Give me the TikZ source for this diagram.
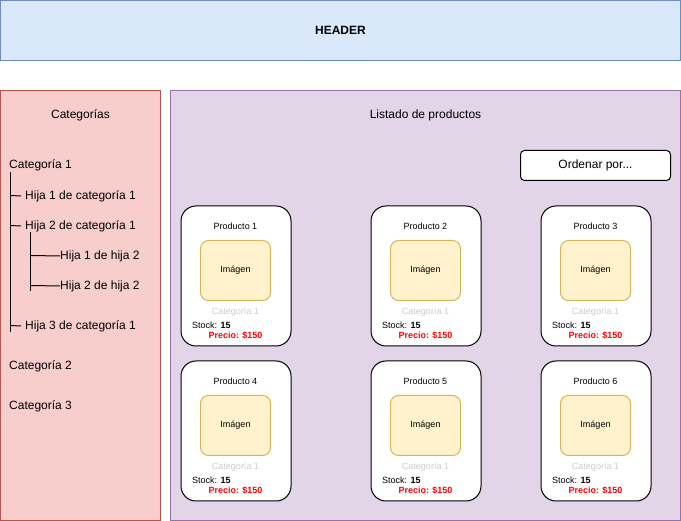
\documentclass[tikz,border=0pt]{standalone}
\usepackage{fontspec}
\setmainfont{Liberation Sans}
\definecolor{hdrfill}{HTML}{DAE8FC}
\definecolor{hdrline}{HTML}{6C8EBF}
\definecolor{catfill}{HTML}{F8CECC}
\definecolor{catline}{HTML}{B85450}
\definecolor{prodfill}{HTML}{E1D5E7}
\definecolor{prodline}{HTML}{9673A6}
\definecolor{imgfill}{HTML}{FFF2CC}
\definecolor{imgline}{HTML}{D6B656}
\definecolor{graytxt}{HTML}{CCCCCC}
\definecolor{redtxt}{HTML}{FF0000}
\tikzset{
  panel/.style={draw, line width=1pt, inner sep=0pt, outer sep=0pt, anchor=north west},
  txt/.style={inner sep=0pt, font=\fontsize{12}{14}\selectfont},
  ltxt/.style={txt, anchor=west},
  small/.style={inner sep=0pt, font=\fontsize{9}{11}\selectfont},
  card/.style={draw, line width=1pt, fill=white, rounded corners=15pt, minimum width=110pt, minimum height=140pt, anchor=north west, inner sep=0pt},
  imgbox/.style={draw=imgline, fill=imgfill, line width=1pt, rounded corners=8pt, minimum width=70pt, minimum height=60pt, inner sep=0pt, font=\fontsize{9}{11}\selectfont},
  tree/.style={line width=1pt}
}
\newcommand{\prodcard}[4]{%
  \node[card] (#1) at (#2,#3) {};
  \node[small] (#1t) at (#2+55,#3+20.5) {Producto #4};
  \node[imgbox] (#1i) at (#2+55,#3+65) {Imágen};
  \node[small, text=graytxt] (#1c) at (#2+55,#3+106.5) {Categoría 1};
  \node[small, anchor=west] (#1s) at (#2+11.5,#3+119.5) {Stock: \textbf{15}};
  \node[small, text=redtxt, font=\fontsize{9}{11}\selectfont\bfseries] (#1p) at (#2+55,#3+130) {Precio: \$150};
}
\begin{document}
\begin{tikzpicture}[x=1pt,y=-1pt]
\useasboundingbox (0,0) rectangle (681,521);
% header
\node[panel, fill=hdrfill, draw=hdrline, minimum width=680pt, minimum height=60pt] (header) at (0.5,0.5) {};
\node[txt, font=\fontsize{12}{14}\selectfont\bfseries] (htext) at (340.5,30) {HEADER};
% categories panel
\node[panel, fill=catfill, draw=catline, minimum width=160pt, minimum height=430pt] (cats) at (0.5,90.5) {};
\node[txt] (catstitle) at (80.5,115) {Categorías};
% products panel
\node[panel, fill=prodfill, draw=prodline, minimum width=510pt, minimum height=430pt] (prods) at (170.5,90.5) {};
\node[txt] (prodstitle) at (425.5,115) {Listado de productos};
% order button
\node[draw, line width=1pt, fill=white, rounded corners=4pt, minimum width=150pt, minimum height=30pt, inner sep=0pt, font=\fontsize{12}{14}\selectfont] (order) at (595.5,165.5) {Ordenar por...};
% tree
\node[ltxt] (c1) at (9,165.5) {Categoría 1};
\node[ltxt] (h1) at (25,196) {Hija 1 de categoría 1};
\node[ltxt] (h2) at (25,226) {Hija 2 de categoría 1};
\node[ltxt] (h21) at (60,256) {Hija 1 de hija 2};
\node[ltxt] (h22) at (60,286) {Hija 2 de hija 2};
\node[ltxt] (h3) at (25,326) {Hija 3 de categoría 1};
\node[ltxt] (c2) at (9,366) {Categoría 2};
\node[ltxt] (c3) at (9,406) {Categoría 3};
\coordinate (t1top) at (10.5,172);
\coordinate (t1bot) at (10.5,332);
\draw[tree] (t1top) -- (t1bot);
\draw[tree] (10.5,195.5) -- ([xshift=-4pt]h1.west);
\draw[tree] (10.5,225.5) -- ([xshift=-4pt]h2.west);
\draw[tree] (10.5,325.5) -- ([xshift=-4pt]h3.west);
\coordinate (t2top) at (30.5,232);
\coordinate (t2bot) at (30.5,291);
\draw[tree] (t2top) -- (t2bot);
\draw[tree] (30.5,255.5) -- (h21.west);
\draw[tree] (30.5,285.5) -- (h22.west);
% product cards
\prodcard{p1}{180.5}{205.5}{1}
\prodcard{p2}{370.5}{205.5}{2}
\prodcard{p3}{540.5}{205.5}{3}
\prodcard{p4}{180.5}{360.5}{4}
\prodcard{p5}{370.5}{360.5}{5}
\prodcard{p6}{540.5}{360.5}{6}
\end{tikzpicture}
\end{document}
